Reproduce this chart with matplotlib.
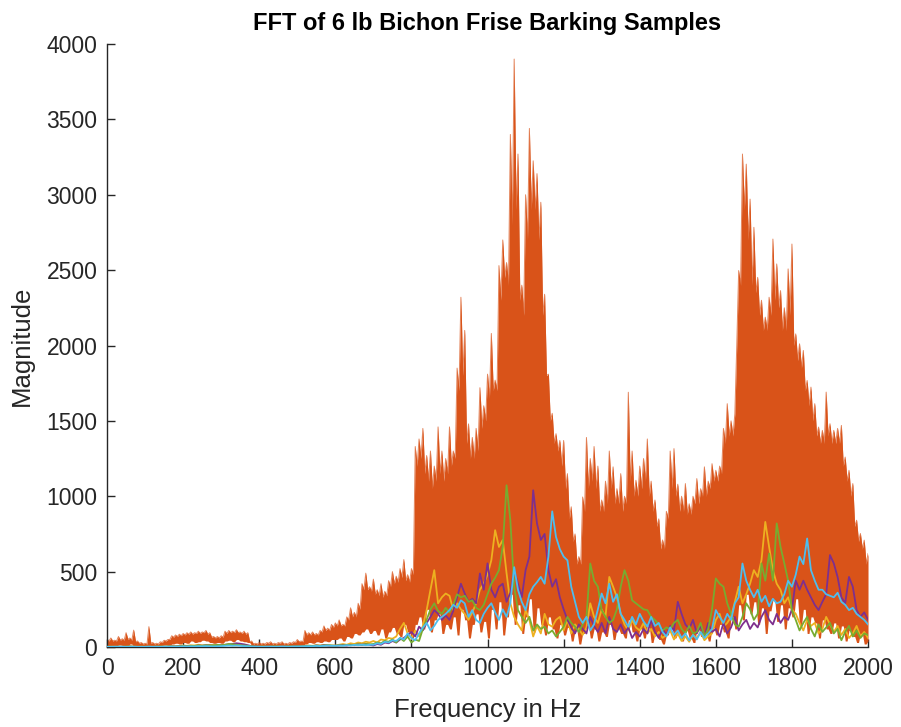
import matplotlib
matplotlib.use("Agg")
import matplotlib.pyplot as plt
import numpy as np

plt.rcParams['font.family'] = ['Liberation Sans', 'DejaVu Sans']

# ------------------------------------------------------------------
# values, one entry per 10 Hz (0 ... 2000 Hz)
# ------------------------------------------------------------------
freq = np.arange(0, 2001, 10)

# orange trace: spike tips at each 10 Hz step
orange_peak = [
    50, 60, 45, 70, 55, 95, 60, 112, 40, 30,
    25, 135, 30, 25, 35, 45, 50, 75, 80, 85,
    90, 95, 100, 95, 105, 100, 110, 95, 70, 70,
    75, 105, 110, 105, 115, 100, 105, 95, 40, 25,
    30, 25, 30, 35, 25, 30, 35, 25, 30, 35,
    50, 40, 110, 95, 100, 90, 110, 140, 125, 150,
    160, 180, 150, 200, 260, 230, 290, 420, 490, 400,
    450, 380, 420, 370, 440, 500, 470, 520, 580, 480,
    520, 1330, 1380, 1450, 1270, 1300, 1200, 1460, 1300, 1250,
    1460, 1300, 1850, 2320, 2100, 1480, 1390, 1450, 1720, 1600,
    1810, 2080, 1770, 2530, 2700, 2550, 3400, 3900, 3270, 2400,
    3000, 3440, 3225, 3140, 2950, 2340, 1810, 1550, 1415, 1370,
    1370, 1150, 930, 750, 600, 995, 1390, 1250, 1330, 1200,
    975, 1100, 1300, 1195, 1050, 1150, 1000, 1690, 1300, 1106,
    1200, 1250, 1380, 1100, 975, 850, 710, 900, 1300, 1316,
    1080, 1000, 1084, 950, 1000, 1117, 1050, 1195, 1100, 1216,
    1172, 1200, 1450, 1614, 1500, 1547, 2497, 3270, 3203, 2971,
    2784, 2452, 2300, 2188, 2320, 2706, 2541, 2364, 2250, 2508,
    2673, 2077, 2011, 1967, 1768, 1724, 1614, 1459, 1437, 1691,
    1481, 1437, 1450, 1470, 1260, 1172, 1084, 841, 753, 709,
    620,
]
# solid level between two neighbouring spikes (at +5 Hz)
orange_body = [
    40, 40, 40, 45, 45, 50, 45, 35, 25, 20,
    20, 25, 20, 20, 30, 40, 50, 65, 70, 75,
    80, 85, 85, 90, 90, 95, 85, 65, 60, 60,
    65, 90, 95, 95, 95, 90, 85, 35, 20, 20,
    20, 20, 25, 20, 20, 25, 20, 20, 25, 30,
    35, 35, 80, 80, 80, 80, 100, 110, 110, 130,
    140, 140, 140, 180, 200, 200, 250, 380, 380, 370,
    350, 340, 330, 340, 400, 420, 430, 460, 440, 430,
    480, 1200, 1250, 1150, 1100, 1050, 1100, 1150, 1100, 1150,
    1200, 1250, 1700, 1800, 1350, 1250, 1250, 1300, 1450, 1500,
    1650, 1700, 1700, 2300, 2450, 2400, 2800, 2900, 2300, 2200,
    2700, 2900, 2900, 2700, 2200, 1800, 1500, 1350, 1300, 1200,
    1050, 850, 700, 550, 550, 900, 1050, 1100, 1050, 900,
    900, 950, 1050, 950, 950, 900, 950, 1100, 1000, 1000,
    1050, 1100, 1000, 900, 800, 650, 650, 850, 1050, 1000,
    900, 900, 880, 880, 950, 950, 1000, 1000, 1050, 1100,
    1100, 1150, 1350, 1400, 1400, 2000, 2400, 2900, 2700, 2400,
    2350, 2200, 2100, 2100, 2200, 2300, 2250, 2100, 2100, 2200,
    2000, 1900, 1850, 1700, 1600, 1500, 1400, 1350, 1350, 1400,
    1350, 1350, 1350, 1200, 1100, 1000, 800, 700, 650, 550,
]
# lowest dips of the trace (white shows below these)
orange_trough = [
    5, 10, 5, 15, 10, 5, 20, 5, 5, 10,
    5, 5, 10, 5, 10, 15, 10, 20, 25, 20,
    30, 25, 40, 30, 35, 45, 40, 30, 25, 30,
    25, 40, 45, 35, 50, 40, 35, 30, 10, 5,
    5, 5, 10, 5, 10, 5, 10, 5, 5, 10,
    10, 5, 20, 30, 25, 35, 30, 40, 35, 50,
    50, 60, 40, 70, 60, 90, 80, 100, 120, 90,
    110, 80, 120, 60, 100, 130, 90, 70, 150, 100,
    60, 150, 200, 120, 250, 100, 180, 220, 90, 150,
    120, 200, 80, 250, 180, 60, 150, 220, 100, 170,
    60, 250, 120, 300, 80, 200, 350, 150, 280, 90,
    200, 320, 100, 260, 150, 80, 200, 120, 60, 150,
    80, 130, 40, 110, 20, 90, 150, 60, 120, 40,
    100, 70, 150, 50, 120, 90, 60, 180, 100, 40,
    120, 60, 140, 30, 90, 50, 20, 80, 130, 60,
    90, 40, 110, 60, 30, 120, 70, 100, 40, 130,
    80, 150, 100, 60, 200, 120, 280, 180, 350, 220,
    300, 150, 260, 90, 240, 310, 170, 280, 120, 260,
    200, 320, 140, 250, 90, 200, 160, 60, 180, 120,
    90, 160, 60, 140, 40, 110, 70, 30, 90, 20,
    40,
]

yellow = [
    2, 3, 2, 4, 3, 2, 5, 3, 2, 3,
    2, 4, 3, 2, 3, 5, 4, 6, 5, 8,
    10, 8, 12, 10, 15, 12, 10, 14, 12, 10,
    8, 12, 15, 12, 10, 14, 10, 8, 5, 4,
    3, 4, 3, 5, 4, 3, 5, 4, 3, 5,
    6, 5, 8, 10, 8, 12, 10, 14, 12, 10,
    10, 15, 20, 15, 25, 20, 30, 25, 35, 30,
    40, 30, 50, 45, 60, 55, 70, 120, 160, 90,
    60, 110, 70, 140, 245, 380, 510, 290, 330, 355,
    340, 245, 290, 250, 220, 180, 230, 290, 380, 420,
    480, 576, 775, 664, 710, 490, 290, 200, 150, 110,
    245, 180, 70, 140, 90, 220, 150, 135, 180, 200,
    110, 180, 90, 150, 120, 80, 130, 290, 200, 160,
    250, 200, 465, 400, 330, 220, 150, 110, 180, 130,
    110, 160, 90, 120, 70, 100, 60, 80, 110, 50,
    90, 40, 70, 35, 80, 60, 100, 45, 70, 90,
    180, 220, 135, 160, 200, 300, 400, 290, 350, 420,
    510, 465, 576, 830, 665, 510, 420, 380, 290, 330,
    250, 220, 160, 110, 180, 140, 160, 90, 120, 200,
    150, 100, 140, 80, 120, 60, 90, 140, 70, 100,
    60,
]
purple = [
    1, 2, 1, 3, 2, 1, 3, 2, 1, 2,
    1, 3, 2, 1, 2, 3, 2, 4, 3, 5,
    6, 5, 8, 6, 10, 8, 12, 10, 8, 10,
    12, 15, 18, 20, 25, 22, 18, 12, 6, 4,
    3, 2, 3, 4, 3, 2, 4, 3, 2, 4,
    5, 4, 6, 8, 6, 10, 8, 12, 10, 8,
    8, 10, 12, 10, 15, 12, 18, 15, 20, 15,
    10, 20, 15, 30, 25, 40, 30, 50, 60, 80,
    100, 70, 135, 110, 160, 200, 245, 220, 180, 210,
    180, 240, 330, 420, 355, 300, 320, 290, 488, 380,
    555, 380, 330, 400, 420, 300, 360, 510, 420, 330,
    510, 600, 1040, 820, 710, 750, 510, 400, 450, 330,
    250, 180, 130, 90, 150, 120, 90, 200, 140, 100,
    160, 90, 200, 120, 100, 150, 90, 130, 60, 100,
    70, 120, 90, 180, 100, 60, 120, 80, 140, 110,
    300, 220, 150, 120, 180, 90, 140, 70, 160, 100,
    120, 70, 160, 90, 130, 200, 110, 150, 180, 120,
    160, 130, 200, 245, 180, 150, 220, 160, 200, 180,
    250, 440, 380, 440, 380, 330, 280, 245, 300, 350,
    610, 555, 465, 330, 290, 465, 400, 245, 200, 230,
    180,
]
green = [
    1, 2, 1, 2, 1, 2, 3, 2, 1, 2,
    1, 2, 1, 2, 3, 2, 3, 4, 3, 5,
    6, 5, 7, 8, 10, 8, 12, 10, 12, 14,
    12, 15, 20, 18, 15, 12, 10, 8, 5, 3,
    2, 3, 2, 3, 4, 3, 2, 3, 4, 3,
    5, 4, 6, 8, 6, 10, 8, 10, 12, 10,
    8, 12, 10, 14, 12, 15, 18, 15, 20, 18,
    20, 30, 25, 40, 35, 50, 30, 60, 40, 70,
    30, 50, 40, 120, 180, 250, 290, 240, 220, 260,
    230, 280, 350, 330, 340, 300, 310, 260, 245, 280,
    350, 420, 460, 510, 665, 1073, 840, 400, 245, 200,
    160, 200, 110, 150, 120, 135, 90, 110, 70, 100,
    135, 200, 160, 135, 100, 150, 200, 554, 440, 400,
    245, 200, 160, 180, 250, 400, 510, 440, 310, 290,
    270, 250, 245, 200, 180, 150, 110, 130, 120, 160,
    180, 120, 90, 140, 90, 100, 160, 70, 120, 250,
    455, 420, 400, 290, 220, 150, 135, 200, 290, 250,
    180, 220, 555, 440, 620, 440, 820, 665, 555, 440,
    245, 180, 110, 160, 200, 120, 70, 150, 100, 130,
    160, 90, 120, 45, 100, 140, 70, 110, 60, 90,
    80,
]
cyan = [
    1, 1, 2, 1, 2, 1, 1, 2, 1, 1,
    1, 2, 1, 2, 1, 2, 2, 3, 2, 3,
    4, 3, 5, 4, 6, 5, 6, 5, 4, 5,
    6, 8, 10, 8, 10, 8, 6, 5, 3, 2,
    2, 1, 2, 2, 1, 2, 3, 2, 2, 3,
    3, 4, 5, 6, 5, 8, 6, 8, 10, 8,
    8, 10, 8, 12, 10, 14, 12, 15, 12, 15,
    15, 25, 20, 35, 30, 45, 40, 60, 50, 90,
    60, 45, 90, 130, 160, 110, 140, 180, 200, 220,
    245, 280, 260, 310, 290, 200, 245, 180, 160, 220,
    260, 290, 230, 180, 250, 200, 290, 530, 380, 300,
    245, 350, 400, 430, 465, 420, 600, 900, 730, 650,
    600, 575, 400, 300, 200, 160, 200, 110, 150, 250,
    355, 290, 420, 300, 350, 220, 180, 135, 200, 150,
    220, 170, 135, 200, 140, 160, 100, 70, 130, 80,
    110, 60, 90, 45, 80, 50, 100, 60, 90, 120,
    245, 200, 160, 220, 180, 290, 330, 554, 440, 380,
    330, 380, 300, 340, 270, 320, 290, 300, 350, 440,
    400, 480, 600, 550, 720, 510, 440, 380, 380, 350,
    340, 330, 360, 300, 280, 245, 260, 220, 200, 180,
    150,
]

# MATLAB default colour order (series 2..6)
c_orange = '#D95319'
c_yellow = '#EDB120'
c_purple = '#7E2F8E'
c_green = '#77AC30'
c_cyan = '#4DBEEE'
c_axis = '#262626'

# ------------------------------------------------------------------
fig = plt.figure(figsize=(9.01, 7.27), dpi=100)
ax = fig.add_axes([0.1188, 0.110, 0.8446, 0.8295])

# dense orange trace: spike tips alternate with the solid level between them
peak = np.array(orange_peak, dtype=float)
body = np.array(orange_body, dtype=float)
trough = np.array(orange_trough, dtype=float)
f_top = np.append(np.column_stack([freq[:-1], freq[:-1] + 5]).ravel(), freq[-1])
v_top = np.append(np.column_stack([peak[:-1], body]).ravel(), peak[-1])
v_low = np.repeat(trough, 2)[:-1]
ax.fill_between(f_top, v_low, v_top, color=c_orange, linewidth=0, zorder=2)
ax.plot(f_top, v_top, color=c_orange, lw=0.7, alpha=0.7, zorder=2)

ax.plot(freq, yellow, color=c_yellow, lw=1.3, zorder=3)
ax.plot(freq, purple, color=c_purple, lw=1.3, zorder=4)
ax.plot(freq, green, color=c_green, lw=1.3, zorder=5)
ax.plot(freq, cyan, color=c_cyan, lw=1.3, zorder=6)

ax.set_xlim(0, 2000)
ax.set_ylim(0, 4000)
ax.set_xticks(np.arange(0, 2001, 200))
ax.set_yticks(np.arange(0, 4001, 500))

for side in ['top', 'right']:
    ax.spines[side].set_visible(False)
for side in ['left', 'bottom']:
    ax.spines[side].set_color(c_axis)
    ax.spines[side].set_linewidth(1.0)
ax.tick_params(direction='in', length=6, width=1.0, colors=c_axis,
               labelsize=16.5, pad=7)

ax.set_xlabel('Frequency in Hz', fontsize=18.5, color=c_axis, labelpad=13)
ax.set_ylabel('Magnitude', fontsize=18.5, color=c_axis, labelpad=9)
ax.set_title('FFT of 6 lb Bichon Frise Barking Samples', fontsize=17,
             fontweight='bold', color='black', pad=10)

fig.savefig('out.png', dpi=100)
